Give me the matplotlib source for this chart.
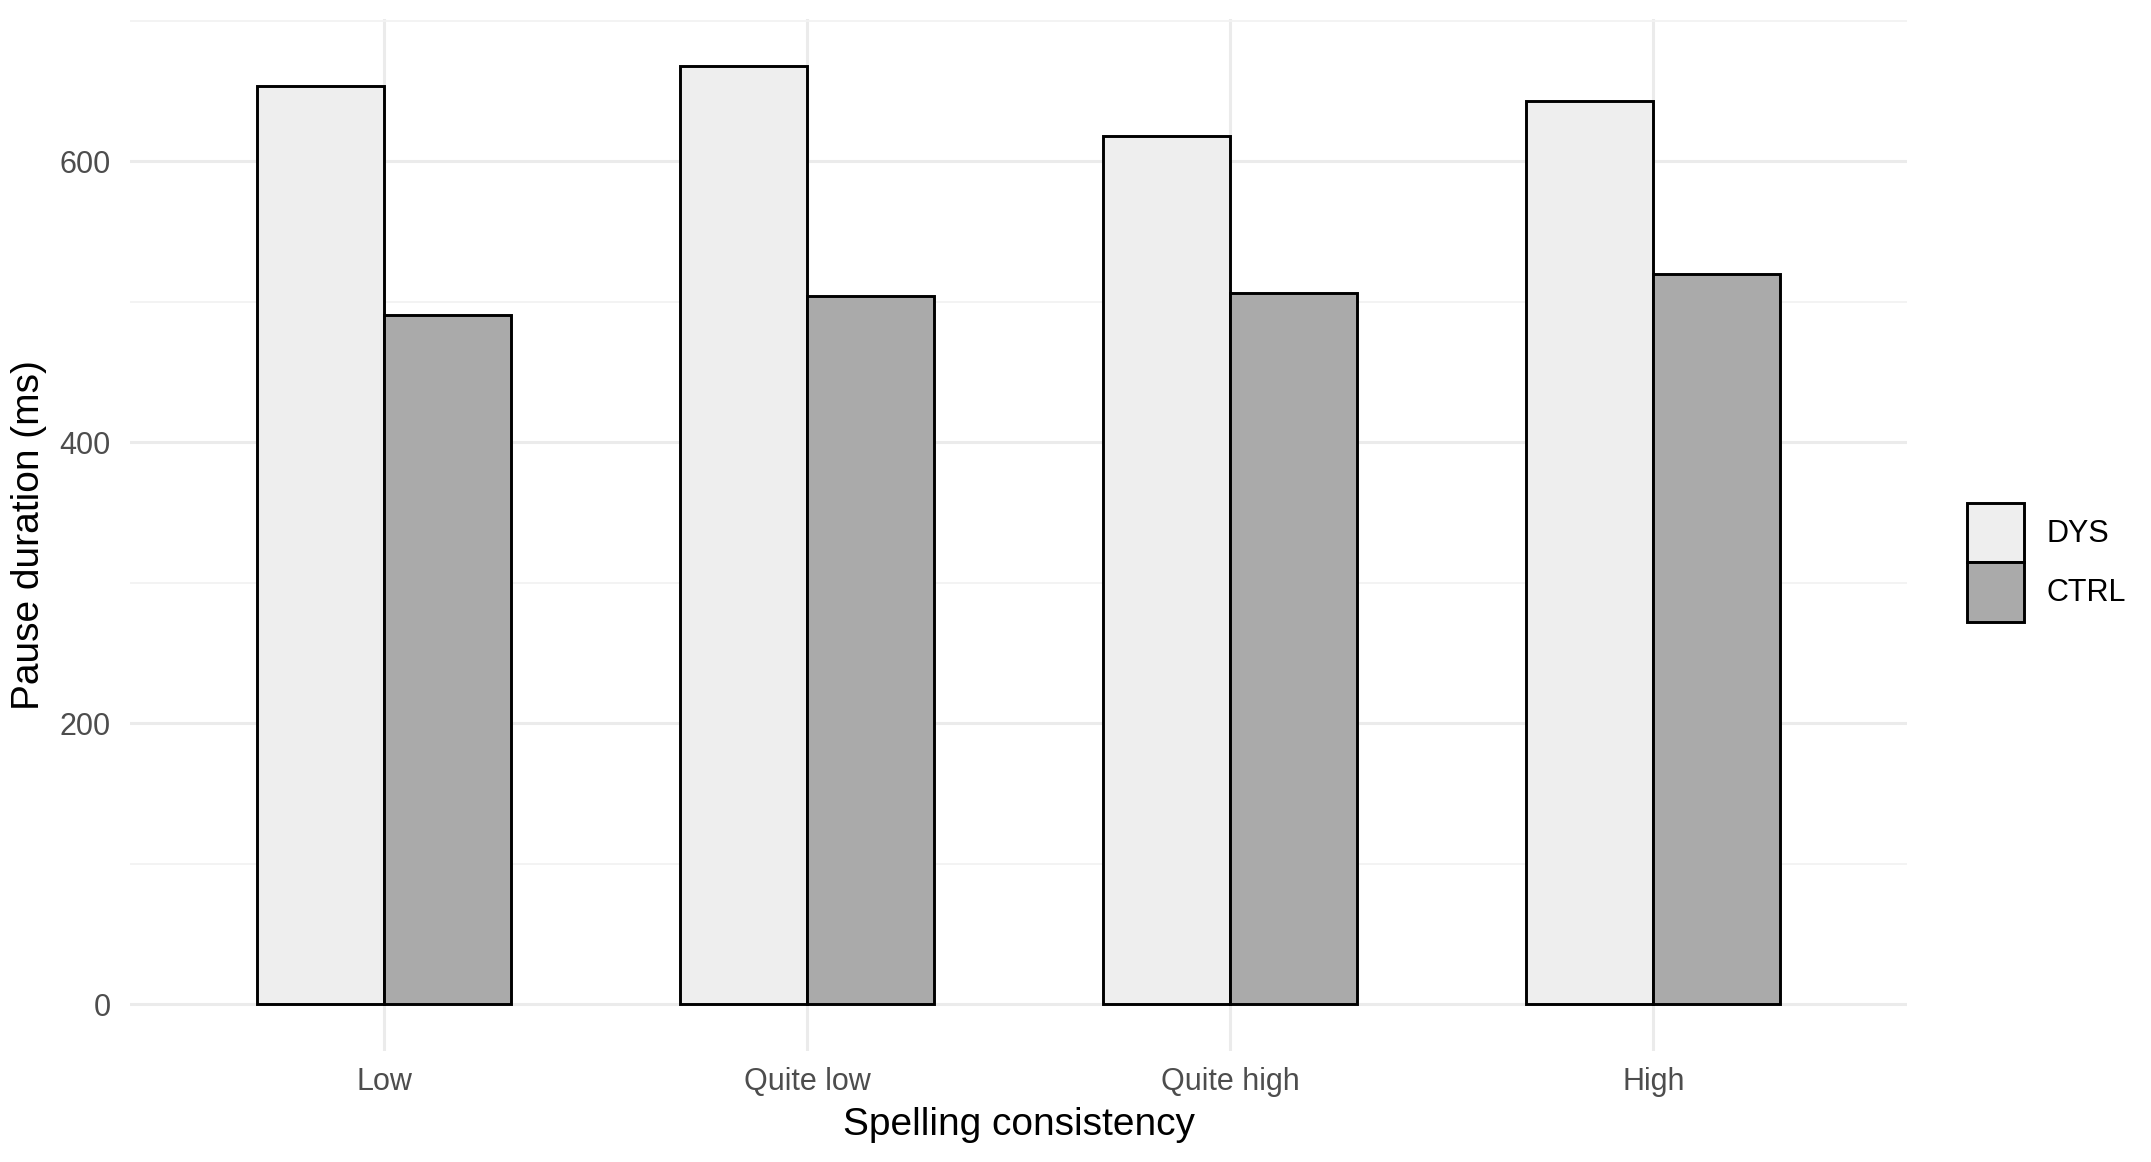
import numpy as np
import matplotlib.pyplot as plt
from matplotlib.ticker import MultipleLocator

plt.rcParams['font.family'] = ['Liberation Sans', 'DejaVu Sans']

# data
categories = ["Low", "Quite low", "Quite high", "High"]
groups = ["DYS", "CTRL"]
dys = [654, 668, 618, 643]
ctrl = [491, 504, 506, 520]
fills = ["#EEEEEE", "#AAAAAA"]

fig = plt.figure(figsize=(21.51, 11.62), dpi=100)
ax = fig.add_axes([0.0605, 0.0955, 0.8262, 0.8881])

x = np.arange(1, len(categories) + 1)
w = 0.3
for vals, off, col, lab in zip([dys, ctrl], [-w / 2, w / 2], fills, groups):
    ax.bar(x + off, vals, width=w, color=col, edgecolor="black", linewidth=2.1,
           label=lab, zorder=3)

ymax = max(dys + ctrl)
ax.set_ylim(-0.05 * ymax, 1.05 * ymax)
ax.set_xlim(0.4, 4.6)
ax.set_xticks(x)
ax.set_xticklabels(categories)
ax.yaxis.set_major_locator(MultipleLocator(200))
ax.yaxis.set_minor_locator(MultipleLocator(100))

# theme_minimal look
for s in ax.spines.values():
    s.set_visible(False)
ax.grid(which="major", color="#EBEBEB", linewidth=2.2, zorder=0)
ax.grid(which="minor", axis="y", color="#F2F2F2", linewidth=1.3, zorder=0)
ax.tick_params(which="both", length=0, labelsize=22, labelcolor="#4D4D4D")
ax.tick_params(axis="x", pad=11.5)
ax.tick_params(axis="y", pad=14)
ax.set_axisbelow(True)

ax.set_xlabel("Spelling consistency", fontsize=28, labelpad=7)
ax.set_ylabel("Pause duration (ms)", fontsize=28, labelpad=9)

fig.legend(loc="center left", bbox_to_anchor=(0.9145, 0.516), frameon=False,
           fontsize=22, handlelength=1.85, handleheight=2.6, labelspacing=0.0,
           handletextpad=0.75, borderpad=0, borderaxespad=0)

fig.savefig("out.png", dpi=100, facecolor="white")
